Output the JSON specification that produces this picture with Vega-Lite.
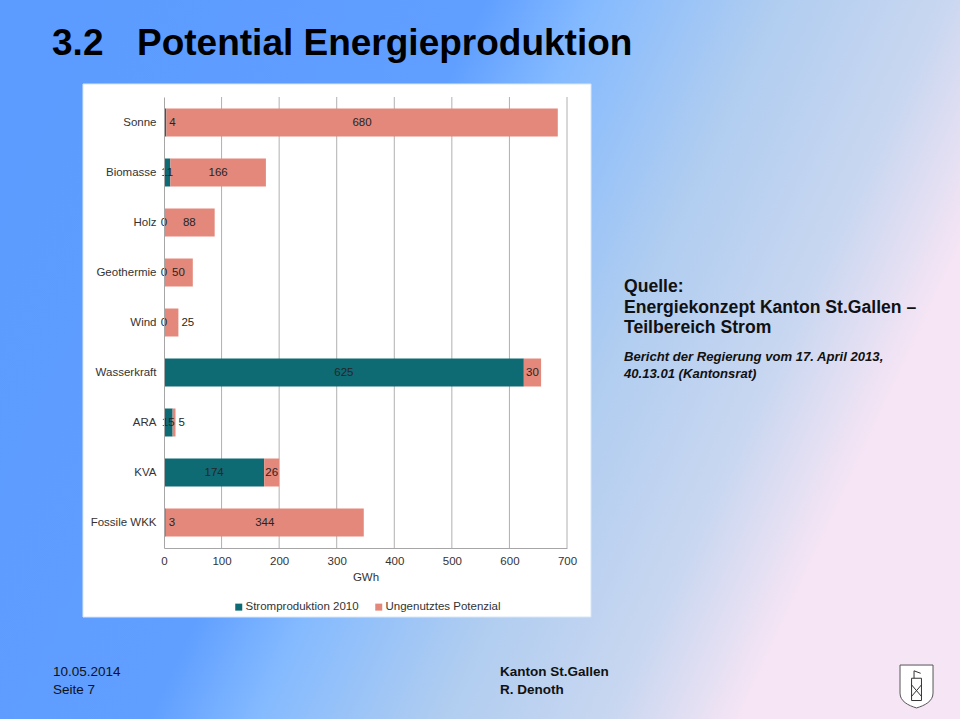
{
  "$schema": "https://vega.github.io/schema/vega-lite/v6.json",
  "width": 960,
  "height": 719,
  "autosize": {"type": "none"},
  "padding": 0,
  "background": "#9CC4F4",
  "config": {
    "font": "Liberation Sans",
    "view": {
      "stroke": null,
      "fill": {
        "gradient": "linear",
        "x1": 0, "y1": 0, "x2": 1, "y2": 0.35,
        "stops": [
          {"offset": 0, "color": "#5C9BFF"},
          {"offset": 0.45, "color": "#609FFF"},
          {"offset": 0.55, "color": "#84BAFF"},
          {"offset": 0.72, "color": "#B0CDF0"},
          {"offset": 0.88, "color": "#C9D7F0"},
          {"offset": 1, "color": "#F6E5F5"}
        ]
      }
    }
  },
  "datasets": {
    "energie": [
      {"Quelle": "Sonne", "Kategorie": "Stromproduktion 2010", "GWh": 4},
      {"Quelle": "Sonne", "Kategorie": "Ungenutztes Potenzial", "GWh": 680},
      {"Quelle": "Biomasse", "Kategorie": "Stromproduktion 2010", "GWh": 11},
      {"Quelle": "Biomasse", "Kategorie": "Ungenutztes Potenzial", "GWh": 166},
      {"Quelle": "Holz", "Kategorie": "Stromproduktion 2010", "GWh": 0},
      {"Quelle": "Holz", "Kategorie": "Ungenutztes Potenzial", "GWh": 88},
      {"Quelle": "Geothermie", "Kategorie": "Stromproduktion 2010", "GWh": 0},
      {"Quelle": "Geothermie", "Kategorie": "Ungenutztes Potenzial", "GWh": 50},
      {"Quelle": "Wind", "Kategorie": "Stromproduktion 2010", "GWh": 0},
      {"Quelle": "Wind", "Kategorie": "Ungenutztes Potenzial", "GWh": 25},
      {"Quelle": "Wasserkraft", "Kategorie": "Stromproduktion 2010", "GWh": 625},
      {"Quelle": "Wasserkraft", "Kategorie": "Ungenutztes Potenzial", "GWh": 30},
      {"Quelle": "ARA", "Kategorie": "Stromproduktion 2010", "GWh": 15},
      {"Quelle": "ARA", "Kategorie": "Ungenutztes Potenzial", "GWh": 5},
      {"Quelle": "KVA", "Kategorie": "Stromproduktion 2010", "GWh": 174},
      {"Quelle": "KVA", "Kategorie": "Ungenutztes Potenzial", "GWh": 26},
      {"Quelle": "Fossile WKK", "Kategorie": "Stromproduktion 2010", "GWh": 3},
      {"Quelle": "Fossile WKK", "Kategorie": "Ungenutztes Potenzial", "GWh": 344}
    ]
  },
  "layer": [
    {
      "data": {"values": [{}]},
      "mark": {"type": "rect", "fill": "#FFFFFF", "stroke": "#D6E6FA", "strokeWidth": 1},
      "encoding": {
        "x": {"datum": -140.7, "type": "quantitative"},
        "x2": {"datum": 741.7},
        "y": {"datum": "Sonne", "type": "nominal", "bandPosition": -0.875},
        "y2": {"datum": "Fossile WKK", "bandPosition": 3.875}
      }
    },
    {
      "data": {"values": [{"t": 100}, {"t": 200}, {"t": 300}, {"t": 400}, {"t": 500}, {"t": 600}, {"t": 700}]},
      "mark": {"type": "rule", "color": "#B0B0B0", "strokeWidth": 1},
      "encoding": {
        "x": {"field": "t", "type": "quantitative"},
        "y": {"datum": "Sonne", "type": "nominal", "bandPosition": -0.411},
        "y2": {"datum": "Fossile WKK", "bandPosition": 1.411}
      }
    },
    {
      "data": {"name": "energie"},
      "transform": [
        {"stack": "GWh", "groupby": ["Quelle"], "sort": [{"field": "Kategorie", "order": "ascending"}], "as": ["x0", "x1"]},
        {"calculate": "(datum.x0 + datum.x1) / 2", "as": "xm"}
      ],
      "layer": [
        {
          "mark": {"type": "bar"},
          "encoding": {
            "x": {
              "field": "x0", "type": "quantitative",
              "scale": {"domain": [0, 700], "range": [164, 567], "nice": false, "zero": true},
              "axis": {
                "orient": "bottom", "offset": -171, "zindex": 1,
                "values": [0, 100, 200, 300, 400, 500, 600, 700],
                "grid": false, "labelFlush": false,
                "ticks": false, "tickSize": 0,
                "domainColor": "#A6A6A6",
                "labelPadding": 7, "labelFontSize": 11.5, "labelColor": "#333333",
                "title": "GWh", "titleFontWeight": "normal", "titleFontSize": 11.5,
                "titleColor": "#333333", "titlePadding": 5
              }
            },
            "x2": {"field": "x1"},
            "y": {
              "field": "Quelle", "type": "nominal",
              "sort": ["Sonne", "Biomasse", "Holz", "Geothermie", "Wind", "Wasserkraft", "ARA", "KVA", "Fossile WKK"],
              "scale": {
                "domain": ["Sonne", "Biomasse", "Holz", "Geothermie", "Wind", "Wasserkraft", "ARA", "KVA", "Fossile WKK"],
                "range": [97, 548], "paddingInner": 0.44, "paddingOuter": 0.23
              },
              "axis": {
                "orient": "left", "offset": -164, "title": null, "zindex": 1,
                "ticks": false, "tickSize": 0, "grid": false,
                "domainColor": "#A6A6A6",
                "labelPadding": 8, "labelFontSize": 11.5, "labelColor": "#333333"
              }
            },
            "color": {
              "field": "Kategorie", "type": "nominal",
              "scale": {"domain": ["Stromproduktion 2010", "Ungenutztes Potenzial"], "range": ["#0E6B73", "#E3887A"]},
              "legend": {
                "orient": "none", "legendX": 233, "legendY": 601,
                "direction": "horizontal", "title": null,
                "symbolType": "square", "symbolSize": 49, "symbolStrokeWidth": 0,
                "labelFontSize": 11.5, "labelColor": "#333333", "labelOffset": 1,
                "columnPadding": 14
              }
            }
          }
        },
        {
          "transform": [{"filter": "!((datum.Kategorie == 'Ungenutztes Potenzial' && datum.GWh < 26) || (datum.GWh > 0 && datum.GWh < 10))"}],
          "mark": {"type": "text", "fontSize": 11.5, "color": "#262626", "baseline": "middle"},
          "encoding": {
            "x": {"field": "xm", "type": "quantitative"},
            "y": {"field": "Quelle", "type": "nominal"},
            "text": {"field": "GWh", "type": "quantitative"}
          }
        },
        {
          "transform": [{"filter": "(datum.Kategorie == 'Ungenutztes Potenzial' && datum.GWh < 26) || (datum.GWh > 0 && datum.GWh < 10)"}],
          "mark": {"type": "text", "fontSize": 11.5, "color": "#262626", "baseline": "middle", "align": "left", "dx": 3},
          "encoding": {
            "x": {"field": "x1", "type": "quantitative"},
            "y": {"field": "Quelle", "type": "nominal"},
            "text": {"field": "GWh", "type": "quantitative"}
          }
        }
      ]
    },
    {
      "data": {"values": [{}]},
      "mark": {"type": "text", "align": "left", "baseline": "alphabetic", "fontSize": 37, "fontWeight": "bold", "color": "#000000"},
      "encoding": {
        "x": {"datum": -194.5, "type": "quantitative"},
        "y": {"datum": "Sonne", "type": "nominal", "bandPosition": -1.911},
        "text": {"value": "3.2"}
      }
    },
    {
      "data": {"values": [{}]},
      "mark": {"type": "text", "align": "left", "baseline": "alphabetic", "fontSize": 37, "fontWeight": "bold", "color": "#000000"},
      "encoding": {
        "x": {"datum": -46.9, "type": "quantitative"},
        "y": {"datum": "Sonne", "type": "nominal", "bandPosition": -1.911},
        "text": {"value": "Potential Energieproduktion"}
      }
    },
    {
      "data": {"values": [{}]},
      "mark": {"type": "text", "align": "left", "baseline": "alphabetic", "fontSize": 17.6, "fontWeight": "bold", "color": "#111111", "lineHeight": 20.5},
      "encoding": {
        "x": {"datum": 799, "type": "quantitative"},
        "y": {"datum": "Wind", "type": "nominal", "bandPosition": -0.589},
        "text": {"value": ["Quelle:", "Energiekonzept Kanton St.Gallen –", "Teilbereich Strom"]}
      }
    },
    {
      "data": {"values": [{}]},
      "mark": {"type": "text", "align": "left", "baseline": "alphabetic", "fontSize": 13.1, "fontWeight": "bold", "fontStyle": "italic", "color": "#111111", "lineHeight": 17},
      "encoding": {
        "x": {"datum": 799, "type": "quantitative"},
        "y": {"datum": "Wasserkraft", "type": "nominal", "bandPosition": 0.079},
        "text": {"value": ["Bericht der Regierung vom 17. April 2013,", "40.13.01 (Kantonsrat)"]}
      }
    },
    {
      "data": {"values": [{}]},
      "mark": {"type": "text", "align": "left", "baseline": "alphabetic", "fontSize": 13.5, "color": "#111111", "lineHeight": 18},
      "encoding": {
        "x": {"datum": -192.8, "type": "quantitative"},
        "y": {"datum": "Fossile WKK", "type": "nominal", "bandPosition": 5.982},
        "text": {"value": ["10.05.2014", "Seite 7"]}
      }
    },
    {
      "data": {"values": [{}]},
      "mark": {"type": "text", "align": "left", "baseline": "alphabetic", "fontSize": 13.5, "fontWeight": "bold", "color": "#111111", "lineHeight": 18},
      "encoding": {
        "x": {"datum": 583.6, "type": "quantitative"},
        "y": {"datum": "Fossile WKK", "type": "nominal", "bandPosition": 5.982},
        "text": {"value": ["Kanton St.Gallen", "R. Denoth"]}
      }
    },
    {
      "data": {"values": [{}]},
      "mark": {"type": "point", "filled": false, "fill": "#FFFFFF", "stroke": "#555555", "strokeWidth": 1, "opacity": 1, "size": 1089,
        "shape": "M-1,-1.3L1,-1.3L1,0.4C1,0.9,0.5,1.15,0,1.3C-0.5,1.15,-1,0.9,-1,0.4Z"},
      "encoding": {
        "x": {"datum": 1307.1, "type": "quantitative"},
        "y": {"datum": "Fossile WKK", "type": "nominal", "bandPosition": 6.357}
      }
    },
    {
      "data": {"values": [{}]},
      "mark": {"type": "point", "filled": false, "stroke": "#333333", "strokeWidth": 1, "opacity": 1, "size": 1089,
        "shape": "M-0.3,-0.5L0.3,-0.5L0.3,0.85L-0.3,0.85Z M-0.3,-0.1L0.3,0.6 M0.3,-0.1L-0.3,0.6 M-0.15,-0.5L-0.15,-0.95L0.25,-0.8"},
      "encoding": {
        "x": {"datum": 1307.1, "type": "quantitative"},
        "y": {"datum": "Fossile WKK", "type": "nominal", "bandPosition": 6.357}
      }
    }
  ]
}
